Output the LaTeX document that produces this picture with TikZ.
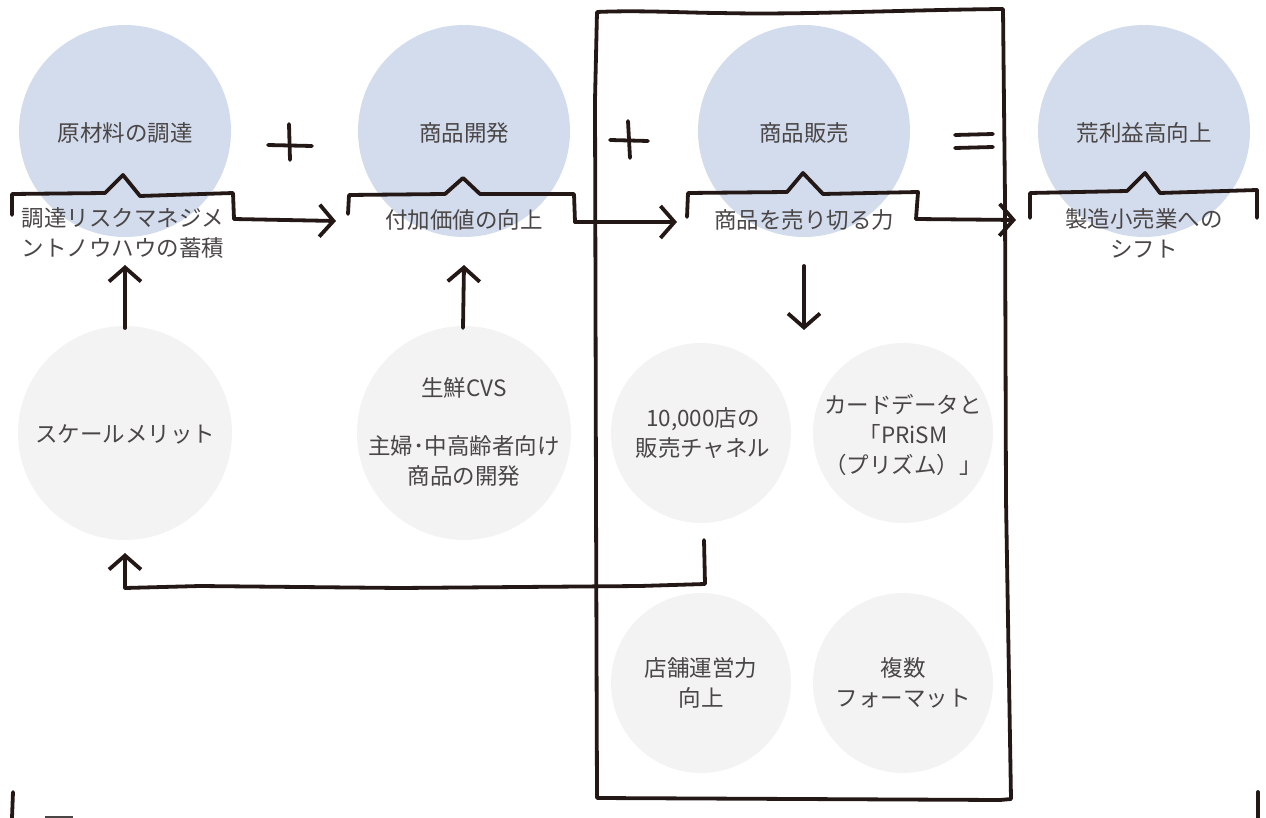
\documentclass[tikz,border=0pt]{standalone}
\usepackage{fontspec}
\setmainfont{Noto Sans CJK JP}
\usetikzlibrary{arrows.meta}
\definecolor{cblue}{HTML}{D3DCED}
\definecolor{cgray}{HTML}{F3F3F3}
\definecolor{ink}{HTML}{231815}
\definecolor{txt}{HTML}{4A4646}
\tikzset{
  big/.style={circle,fill=cblue,minimum size=212pt,inner sep=0pt},
  gbig/.style={circle,fill=cgray,minimum size=214pt,inner sep=0pt},
  gsmall/.style={circle,fill=cgray,minimum size=180pt,inner sep=0pt},
  lbl/.style={text=txt,font=\fontsize{22.5}{30}\selectfont,align=center,inner sep=0pt},
  pen/.style={draw=ink,line width=3.8pt,line cap=round,line join=round},
  arr/.style={pen,-{Straight Barb[length=14pt,width=32pt]}},
}
\begin{document}
\begin{tikzpicture}[x=1pt,y=-1pt]
\useasboundingbox (0,0) rectangle (1266,818);
% top circles
\node[big] (c1) at (125,131) {};
\node[big] (c2) at (464,131) {};
\node[big] (c3) at (804,131) {};
\node[big] (c4) at (1144,131) {};
\node[lbl] (c1t) at (125,133) {原材料の調達};
\node[lbl] (c2t) at (464,133) {商品開発};
\node[lbl] (c3t) at (804,133) {商品販売};
\node[lbl] (c4t) at (1144,133) {荒利益高向上};
% gray circles
\node[gbig] (g1) at (125,433) {};
\node[gbig] (g2) at (464,433) {};
\node[gsmall] (g3) at (701,433) {};
\node[gsmall] (g4) at (903,433) {};
\node[gsmall] (g5) at (701,683) {};
\node[gsmall] (g6) at (903,683) {};
\node[lbl] (g1t) at (125,434) {スケールメリット};
\node[lbl] (g2a) at (464,388) {生鮮CVS};
\node[lbl] (g2b) at (464,461) {主婦･中高齢者向け\\商品の開発};
\node[lbl] (g3t) at (703,433) {10,000店の\\販売チャネル};
\node[lbl] (g4t) at (903,435) {カードデータと\\「PRiSM\\（プリズム）」};
\node[lbl] (g5t) at (701,683) {店舗運営力\\向上};
\node[lbl] (g6t) at (903,683) {複数\\フォーマット};
% brace labels
\node[lbl] (b1t) at (123,233) {調達リスクマネジメ\\ントノウハウの蓄積};
\node[lbl] (b2t) at (464,220) {付加価値の向上};
\node[lbl] (b3t) at (804,220) {商品を売り切る力};
\node[lbl] (b4t) at (1144,233) {製造小売業への\\シフト};
% operators
\draw[pen] (268,145) -- (312,146);
\draw[pen] (289,124) -- (290,160);
\draw[pen] (610,140) -- (648,141);
\draw[pen] (628,121) -- (630,158);
\draw[pen] (955,135) -- (993,134);
\draw[pen] (955,148) -- (993,147);
% frame
\draw[pen] (597,12) .. controls (640,10) and (690,13) .. (720,13)
  .. controls (800,15) and (900,10) .. (1003,9)
  -- (1005,200) -- (1006,500) -- (1011,799) -- (1000,800) -- (597,798)
  -- (596,500) -- (595,100) -- cycle;
% braces and arrows
\coordinate (a1s) at (234,219);
\coordinate (a2s) at (575,222);
\coordinate (a3s) at (916,219);
\coordinate (a1e) at (336,221);
\coordinate (a2e) at (677,222);
\coordinate (a3e) at (1016,220);
\draw[pen] (12,215) -- (12,194) -- (105,193) -- (123,175) -- (140,196) -- (233,193) -- (a1s);
\draw[pen] (348,214) -- (349,195) -- (445,194) -- (463,178) -- (480,194) -- (574,194) -- (a2s);
\draw[pen] (687,217) -- (688,193) -- (787,192) -- (803,173) -- (823,194) -- (918,192) -- (a3s);
\draw[pen] (1030,218) -- (1030,193) -- (1127,191) -- (1145,173) -- (1160,193) -- (1257,190) -- (1257,218);
\draw[arr] (a1s) -- (a1e);
\draw[arr] (a2s) -- (a2e);
\draw[arr] (a3s) -- (a3e);
% vertical arrows
\coordinate (u1s) at (125,328);
\coordinate (u1e) at (125,265);
\coordinate (u2s) at (463,328);
\coordinate (u2e) at (464,265);
\coordinate (d1s) at (804,266);
\coordinate (d1e) at (804,330);
\draw[arr] (u1s) -- (u1e);
\draw[arr] (u2s) -- (u2e);
\draw[arr] (d1s) -- (d1e);
% loop arrow
\coordinate (l1) at (704,540);
\coordinate (l2) at (125,553);
\draw[arr] (l1) -- (705,584) -- (640,586) -- (400,588) -- (200,586) -- (125,588) -- (l2);
% bottom edges
\draw[pen] (13,792) -- (12,818);
\draw[pen] (1258,792) -- (1258,818);
\draw[draw=txt,line width=3pt] (45,817) -- (73,817);
\end{tikzpicture}
\end{document}
